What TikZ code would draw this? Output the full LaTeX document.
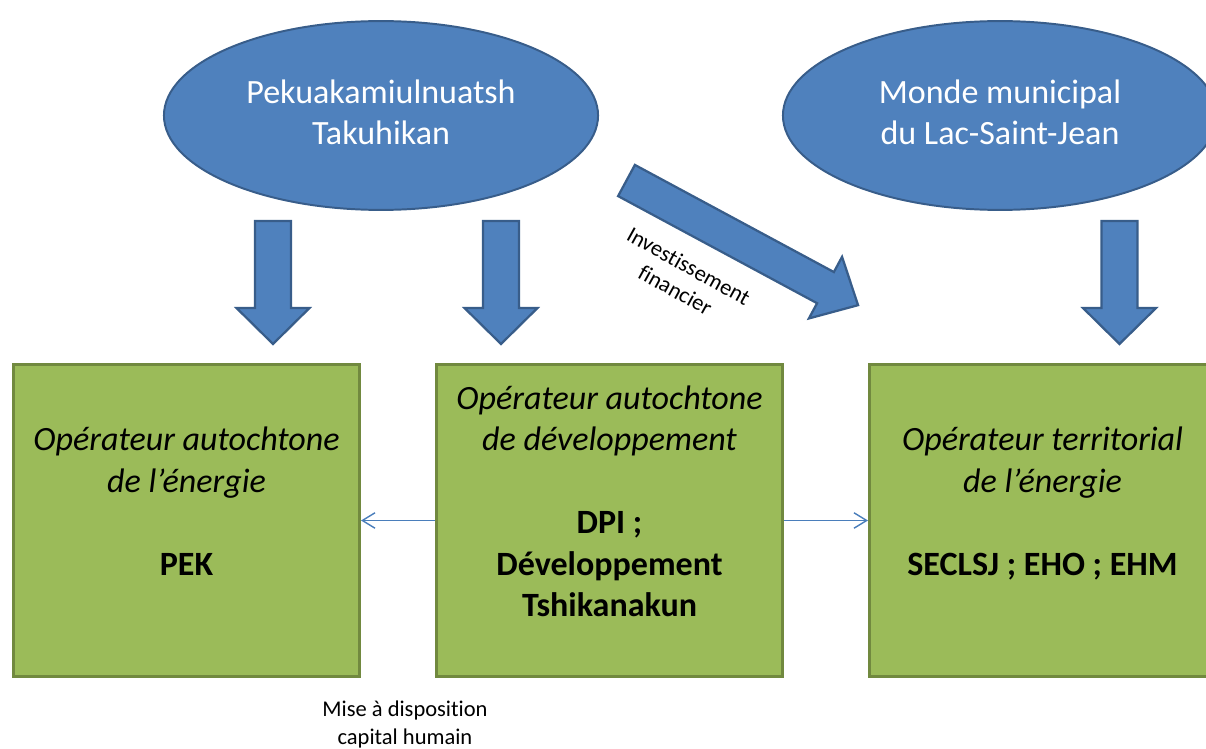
\documentclass[tikz,border=0pt]{standalone}
\usepackage{fontspec}
\setmainfont[Ligatures={TeX,NoCommon}]{Carlito}
\usetikzlibrary{shapes.geometric, arrows.meta}
\definecolor{ovalblue}{HTML}{4F81BD}
\definecolor{ovalline}{HTML}{385D8A}
\definecolor{boxgreen}{HTML}{9BBB59}
\definecolor{boxline}{HTML}{71893F}
\definecolor{linkblue}{HTML}{4A7EBB}

\begin{document}
\begin{tikzpicture}[x=0.025cm, y=-0.025cm,
        actor/.style={draw=ovalline, line width=1.4pt, fill=ovalblue, ellipse, minimum width=10.85cm, minimum height=4.72cm, inner sep=0pt, text=white, align=center, font=\fontsize{24.2}{29.6}\selectfont},
        operator/.style={draw=boxline, line width=2.1pt, fill=boxgreen, rectangle, minimum width=8.65cm, minimum height=7.8cm, inner sep=0pt},
        optext/.style={align=center, inner sep=0pt, font=\fontsize{24.2}{29.5}\selectfont},
        bigarrow/.style={draw=ovalline, line width=1.6pt, fill=ovalblue, line join=miter},
        link/.style={draw=linkblue, line width=1pt, -{Straight Barb[length=9pt, width=11pt]}},
        note/.style={align=center, inner sep=0pt, font=\fontsize{16}{19.5}\selectfont}]
        \useasboundingbox (0,0) rectangle (1206,749);
        \clip (0,0) rectangle (1206,749);

        \node[actor] (pekua) at (381,115.5) {Pekuakamiulnuatsh\strut\\Takuhikan\strut};
        \node[actor] (monde) at (1000,115.5) {Monde municipal\strut\\du Lac-Saint-Jean\strut};

        \draw[bigarrow] (255,221) -- (291,221) -- (291,308) -- (309.5,308) -- (273,344) -- (236.5,308) -- (255,308) -- cycle;
        \draw[bigarrow] (483,221) -- (519,221) -- (519,308) -- (537.5,308) -- (501,344) -- (464.5,308) -- (483,308) -- cycle;
        \draw[bigarrow] (1101.5,221) -- (1137.5,221) -- (1137.5,308) -- (1156,308) -- (1119.5,344) -- (1083,308) -- (1101.5,308) -- cycle;
        \begin{scope}[shift={(626.5,180.5)}, rotate=-28.3]
            \draw[bigarrow] (0,-17.7) -- (226,-17.7) -- (226,-35) -- (263,0) -- (226,35) -- (226,17.7) -- (0,17.7) -- cycle;
        \end{scope}
        \node[note, rotate=-29] (invest) at (681,280) {Investissement\strut\\financier\strut};

        \node[operator] (pek) at (186.5,520.5) {};
        \node[operator] (dpi) at (609.5,520.5) {};
        \node[operator] (seclsj) at (1042.5,520.5) {};

        \node[optext] (pektext) at ([yshift=0.4cm]pek.center) {\itshape Opérateur autochtone\strut\\\itshape de l’énergie\strut\\[29.5pt]\bfseries PEK\strut};
        \node[optext] (dpitext) at ([yshift=0.4cm]dpi.center) {\itshape Opérateur autochtone\strut\\\itshape de développement\strut\\[29.5pt]\bfseries DPI ;\strut\\\bfseries Développement\strut\\\bfseries Tshikanakun\strut};
        \node[optext] (seclsjtext) at ([yshift=0.4cm]seclsj.center) {\itshape Opérateur territorial\strut\\\itshape de l’énergie\strut\\[29.5pt]\bfseries SECLSJ ; EHO ; EHM\strut};

        \draw[link] (dpi) -- (pek);
        \draw[link] (dpi) -- (seclsj);
        \node[note] (mise) at (405,725.2) {Mise à disposition\strut\\capital humain\strut};
    \end{tikzpicture}
\end{document}
